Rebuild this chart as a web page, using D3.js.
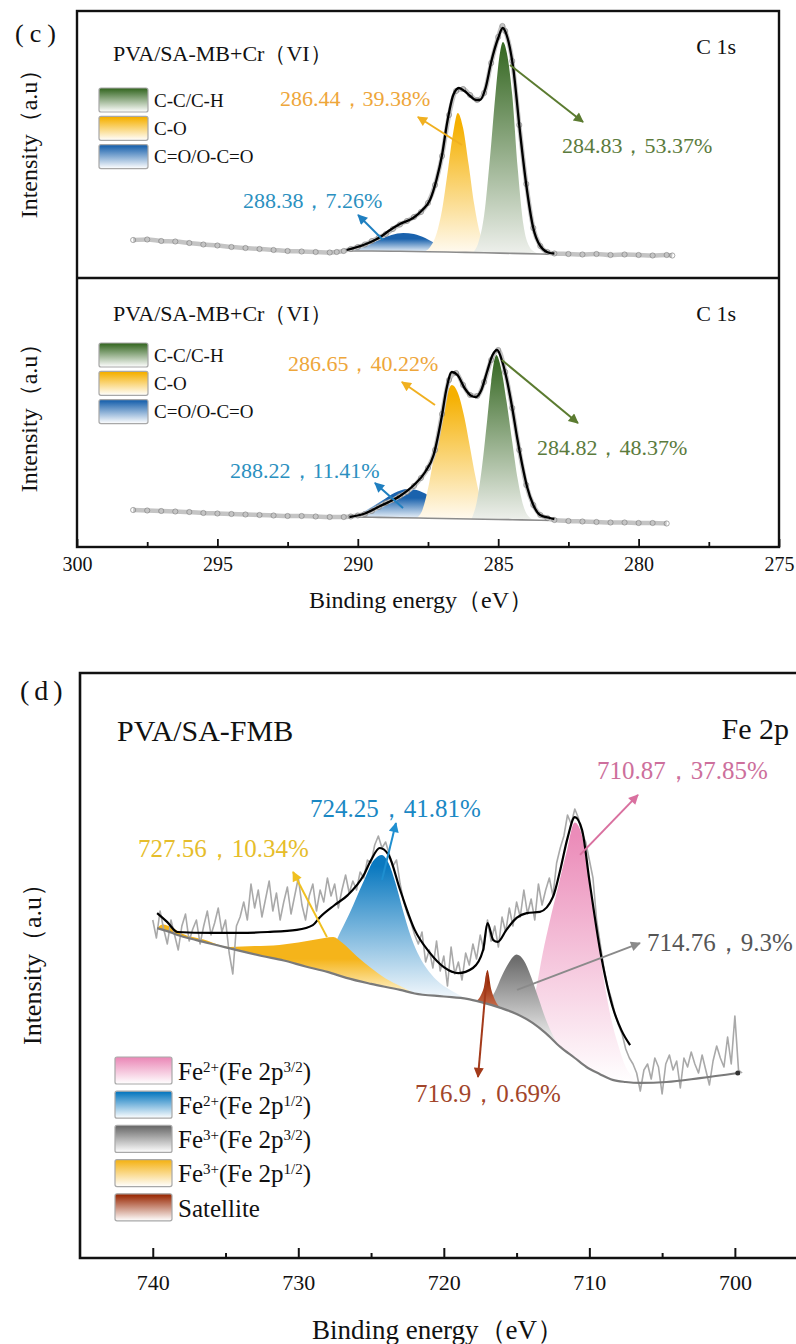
<!DOCTYPE html>
<html>
<head>
<meta charset="utf-8">
<script src="https://cdn.jsdelivr.net/npm/d3@7"></script>
<style>
body{margin:0;background:#fff;}
svg{display:block;}
text{font-family:"Liberation Serif","Times New Roman",serif;fill:#111;}
</style>
</head>
<body>
<svg id="chart" width="796" height="1344"></svg>
<script>
// ---------- data (energies in eV, intensities in a.u.) ----------
var cLegend = ["C-C/C-H", "C-O", "C=O/O-C=O"];
var c1sTopCenters = [284.83, 286.44, 288.38];
var c1sTopPct = [53.37, 39.38, 7.26];
var c1sLowCenters = [284.82, 286.65, 288.22];
var c1sLowPct = [48.37, 40.22, 11.41];
var cTicks = [300, 295, 290, 285, 280, 275];
var cMinor = [297.5, 292.5, 287.5, 282.5, 277.5];

var c1sTopRaw = [[298,20],[297.5,20.5],[297,19],[296.5,18.5],[296,17],[295.5,15.5],[295,14.5],[294.5,13],[294,12],[293.5,11],[293,10],[292.5,9],[292,8.5],[291.5,8],[291,7.5],[290.75,8],[290.5,9],[290.25,11],[290,13],[289.75,15.5],[289.5,19],[289.25,22.5],[289,26],[288.75,31],[288.5,35.5],[288.25,39],[288,43],[287.75,48],[287.5,57],[287.25,75],[287,104],[286.75,145],[286.5,169],[286.25,171],[286,165],[285.75,160],[285.5,167],[285.25,197],[285,223],[284.85,234],[284.75,229],[284.5,199],[284.25,135],[284,76],[283.75,32],[283.5,14],[283.25,8],[283,6.5],[282.5,6],[282,5.5],[281.5,6],[281,5],[280.5,5.5],[280,5],[279.5,4.5],[279,5],[278.8,4.5]];
var c1sTopFit = [[290.4,10],[289.8,15],[289.2,23],[288.85,30],[288.5,36],[288.03,42],[287.7,50],[287.43,60],[287.2,80],[287,105],[286.82,137],[286.6,165],[286.4,172],[286.2,169],[286,164],[285.8,160],[285.65,160],[285.45,172],[285.25,198],[285,222],[284.84,232],[284.7,225],[284.47,193],[284.22,127],[284,75],[283.76,33],[283.5,14],[283.16,7],[283,6.5]];
var c1sTopBg = [[290.5,9],[289.5,9],[288.5,8.7],[287.5,8.3],[286.5,7.8],[285.5,7.3],[284.5,6.6],[283.5,6],[283,5.6]];
var c1sTopCC = [[285.9,7.5],[285.7,18],[285.5,45],[285.3,100],[285.1,165],[284.95,205],[284.83,218],[284.7,208],[284.5,165],[284.3,90],[284.1,35],[283.9,14],[283.7,8],[283.5,6]];
var c1sTopCO = [[287.6,8.4],[287.4,14],[287.2,26],[287,50],[286.8,88],[286.6,128],[286.44,147],[286.25,132],[286.05,95],[285.85,55],[285.65,27],[285.45,14],[285.2,7.2]];
var c1sTopCOO = [[290.4,9],[290,12],[289.6,16],[289.2,20.5],[288.8,25],[288.38,27],[288,26],[287.6,22],[287.2,16],[286.8,11.5],[286.4,8.5],[286,7.5]];

var c1sLowRaw = [[298,20],[297.5,19.5],[297,19],[296.5,18.5],[296,18],[295.5,17],[295,16.5],[294.5,16],[294,15.5],[293.5,15],[293,14.5],[292.5,14],[292,14],[291.5,13.5],[291,13],[290.5,13],[290.25,13.5],[290,14.5],[289.75,16],[289.5,19],[289.25,23],[289,27],[288.75,30],[288.5,34],[288.25,38],[288,44],[287.75,52],[287.5,62],[287.25,80],[287,116],[286.75,150],[286.5,157],[286.25,145],[286,135],[285.75,134],[285.5,148],[285.25,170],[285,180],[284.75,158],[284.5,122],[284.25,80],[284,45],[283.75,25],[283.5,15],[283.25,12],[283,10],[282.5,9],[282,8.5],[281.5,8],[281,7.5],[280.5,7.5],[280,7],[279.5,7],[279,6.5]];
var c1sLowFit = [[290.3,13],[289.8,16],[289.2,24],[288.5,34],[288,45],[287.6,58],[287.3,75],[287,115],[286.85,140],[286.65,158],[286.45,155],[286.2,142],[285.95,134],[285.8,133],[285.6,140],[285.4,158],[285.2,175],[285.04,180],[284.85,168],[284.69,150],[284.5,122],[284.33,93],[284.15,66],[283.97,43],[283.75,25],[283.51,15],[283.16,12],[283,11]];
var c1sLowBg = [[290.3,13],[289.5,12.7],[288.5,12.3],[287.5,11.8],[286.5,11.3],[285.5,10.8],[284.5,10.3],[283.5,9.8],[283,9.5]];
var c1sLowCC = [[285.95,11],[285.75,30],[285.6,58],[285.4,108],[285.25,148],[285.07,175],[284.9,162],[284.7,128],[284.5,88],[284.3,50],[284.1,24],[283.9,13],[283.7,10]];
var c1sLowCO = [[287.9,12],[287.7,20],[287.45,48],[287.2,88],[287,117],[286.8,138],[286.65,145],[286.45,138],[286.2,112],[286,82],[285.8,52],[285.6,28],[285.4,15],[285.2,10.7]];
var c1sLowCOO = [[290.3,13],[289.9,17],[289.5,23],[289.1,30],[288.7,37],[288.22,41],[287.8,39],[287.4,33],[287,25],[286.6,17],[286.2,12],[285.8,10.9]];

var feLegend = ["Fe^{2+}(Fe 2p^{3/2})", "Fe^{2+}(Fe 2p^{1/2})", "Fe^{3+}(Fe 2p^{3/2})", "Fe^{3+}(Fe 2p^{1/2})", "Satellite"];
var feCenters = [710.87, 724.25, 714.76, 727.56, 716.9];
var fePct = [37.85, 41.81, 9.3, 10.34, 0.69];
var feTicks = [740, 730, 720, 710, 700];
var feMinor = [735, 725, 715, 705];

var feRaw = [[740,60],[739.75,54],[739.5,63],[739.25,57],[739,52],[738.75,60],[738.5,55],[738.25,50],[738,58],[737.75,62],[737.5,53],[737.25,57],[737,60],[736.75,52],[736.5,58],[736.25,63],[736,55],[735.75,59],[735.5,64],[735.25,56],[735,60],[734.75,49],[734.5,42],[734.25,58],[734,61],[733.75,66],[733.5,60],[733.25,72],[733,64],[732.75,70],[732.5,61],[732.25,67],[732,73],[731.75,63],[731.5,69],[731.25,60],[731,66],[730.75,71],[730.5,62],[730.25,68],[730,74],[729.75,65],[729.5,60],[729.25,68],[729,72],[728.75,63],[728.5,70],[728.25,66],[728,74],[727.75,68],[727.5,72],[727.25,64],[727,70],[726.75,75],[726.5,69],[726.25,73],[726,70],[725.75,76],[725.5,74],[725.25,80],[725,79],[724.75,85],[724.5,88],[724.25,84],[724,86],[723.75,82],[723.5,78],[723.25,80],[723,72],[722.75,66],[722.5,62],[722.25,59],[722,55],[721.75,52],[721.5,56],[721.25,46],[721,50],[720.75,44],[720.5,53],[720.25,43],[720,48],[719.75,38],[719.5,51],[719.25,42],[719,46],[718.75,40],[718.5,49],[718.25,45],[718,52],[717.75,47],[717.5,55],[717.25,50],[717,60],[716.75,53],[716.5,58],[716.25,51],[716,61],[715.75,56],[715.5,64],[715.25,58],[715,66],[714.75,61],[714.5,70],[714.25,62],[714,67],[713.75,60],[713.5,72],[713.25,65],[713,70],[712.75,74],[712.5,68],[712.25,79],[712,84],[711.75,88],[711.5,95],[711.25,92],[711,97],[710.75,94],[710.5,89],[710.25,86],[710,80],[709.75,74],[709.5,60],[709.25,52],[709,44],[708.75,38],[708.5,34],[708.25,29],[708,25],[707.75,22],[707.5,17],[707.25,14],[707,12],[706.75,9],[706.5,3],[706.25,10],[706,12],[705.75,7],[705.5,14],[705.25,11],[705,2],[704.75,12],[704.5,15],[704.25,10],[704,13],[703.75,4],[703.5,14],[703.25,11],[703,16],[702.75,12],[702.5,9],[702.25,15],[702,10],[701.75,5],[701.5,13],[701.25,18],[701,14],[700.75,11],[700.5,21],[700.25,12],[700,28],[699.75,10],[699.5,9]];
var feFit = [[739.7,62.3],[739,59.3],[738.3,56],[736,55.7],[734,55.7],[732.1,56],[730.1,56.7],[729,58.3],[728.5,61],[727.5,65],[726.6,68.3],[725.5,75],[725,80],[724.4,84],[723.8,81.7],[723,70],[722,56.7],[721,49.3],[720,44.3],[719,42.3],[718,44],[717.3,50],[717,59],[716.6,53.3],[716.3,52.7],[715.7,56.7],[715,60.7],[714.3,62.3],[713.4,62.7],[712.5,67.7],[712,76.7],[711.5,87.3],[711,94.3],[710.5,90],[710,73.3],[709.3,51],[708.4,31],[707.8,23.3],[707.2,18.3]];
var feBg = [[739.7,57.3],[739,56.3],[738.3,55],[737,53.3],[735.5,51.5],[734,49.7],[732.5,48],[731,46.5],[729.5,44.5],[728,42.7],[726.7,40.7],[725,38.7],[723,36.7],[722,35.5],[720,34.5],[718.4,33.7],[717.5,32.7],[716.1,30.7],[715,28.7],[713.9,25.7],[713,22.3],[712,17.7],[711,14],[710.2,11],[709.3,8.7],[708.4,6.7],[707.5,6],[706.5,5.7],[704.7,6],[702.4,7.3],[699.8,9]];
var fePink = [[714.2,27.2],[713.7,36],[713.2,49],[712.7,60],[712.2,70],[711.6,82],[711,92.5],[710.5,88],[710,73],[709.5,57],[709,40],[708.5,27],[708,18],[707.5,11],[707,7.5],[706.5,5.7]];
var feBlue = [[729,43.7],[728,46],[727.3,54],[726.5,62],[725.5,73],[724.8,80],[724.25,81.7],[723.8,79],[723.3,72],[722.8,63],[722.3,55],[721.8,49],[721.2,44],[720.5,40],[719.5,36.5],[718.4,33.7]];
var feGray = [[717,32.3],[716.5,36],[716,41.5],[715.5,46],[715,48.5],[714.5,46.5],[714,41],[713.5,34],[713,27],[712.5,21.5],[712,17.7]];
var feYellow = [[739.7,57.3],[739.3,58.5],[738.7,57.5],[738,55.5],[736.5,53.5],[734.7,51],[733,51.3],[731.3,51.7],[730,52.5],[729,53.3],[728.2,54],[727.6,54.3],[727,52.5],[726,48],[725,44],[724,40.5],[723,38],[722,35.5]];
var feBrown = [[717.8,33],[717.5,34.5],[717.25,37.5],[717,43.3],[716.75,37],[716.5,33.5],[716.1,30.7]];

// ---------- drawing ----------
var svg = d3.select("#chart");
var defs = svg.append("defs");

function grad(id, color, mid, end){
	var g = defs.append("linearGradient").attr("id", id)
		.attr("x1", 0).attr("y1", 0).attr("x2", 0).attr("y2", 1);
	g.append("stop").attr("offset", "0%").attr("stop-color", color);
	g.append("stop").attr("offset", (mid * 100) + "%").attr("stop-color", color);
	g.append("stop").attr("offset", "100%").attr("stop-color", end || "#ffffff");
}
function marker(id, color){
	defs.append("marker").attr("id", id)
		.attr("viewBox", "0 0 10 10").attr("refX", 9).attr("refY", 5)
		.attr("markerWidth", 13).attr("markerHeight", 10)
		.attr("markerUnits", "userSpaceOnUse").attr("orient", "auto")
		.append("path").attr("d", "M0,0L10,5L0,10z").attr("fill", color);
}

var cColors = ["#3a6b27", "#f5b000", "#1a62ad"];
var cEnds = ["#eef0ec", "#fffaf0", "#f4f8fc"];
var cMid = [0.04, 0.08, 0.3];
var cText = ["#5b7b3d", "#eea63a", "#2b90c0"];
var cArrow = ["#5b7b30", "#f0b020", "#1f7fc0"];
var feColors = ["#eb8cb9", "#0a79c0", "#6c6c6c", "#f5b41a", "#9a2a05"];
var feEnds = ["#ffffff", "#f3f8fc", "#f7f7f7", "#fff3cc", "#c87050"];
var feMid = [0.05, 0.08, 0.05, 0.5, 0.3];
var feText = ["#cd6f9c", "#1a88c4", "#555555", "#e6bd2a", "#a2452a"];
var feArrow = ["#d9709f", "#1f8fd0", "#8a8a8a", "#f0c020", "#a33a1a"];

cColors.forEach(function(c, i){
	grad("cg" + i, c, cMid[i], cEnds[i]);
	grad("cl" + i, c, 0.05, "#ffffff");
	marker("cm" + i, cArrow[i]);
});
feColors.forEach(function(c, i){
	grad("fg" + i, c, feMid[i], feEnds[i]);
	grad("fl" + i, c, 0.05, "#ffffff");
	marker("fm" + i, feArrow[i]);
});

var xC = d3.scaleLinear().domain([300, 275]).range([77, 779]);
var yTop = d3.scaleLinear().domain([0, 240]).range([260, 20]);
var yLow = d3.scaleLinear().domain([0, 240]).range([530, 290]);
var xFe = d3.scaleLinear().domain([745, 695.8]).range([80, 796]);
var yFe = d3.scaleLinear().domain([0, 100]).range([1100, 800]);

function drawPeak(g, pts, bg, x, y, fillId){
	var top = d3.line().x(function(d){ return x(d[0]); }).y(function(d){ return y(d[1]); })
		.curve(d3.curveMonotoneX)(pts);
	var hi = pts[0][0], lo = pts[pts.length - 1][0];
	var base = bg.filter(function(d){ return d[0] < hi && d[0] > lo; }).reverse();
	var p = top + base.map(function(d){ return "L" + x(d[0]) + "," + y(d[1]); }).join("") + "Z";
	g.append("path").attr("d", p).attr("fill", "url(#" + fillId + ")");
}
function drawLine(g, pts, x, y, color, w, curve){
	g.append("path")
		.attr("d", d3.line().x(function(d){ return x(d[0]); }).y(function(d){ return y(d[1]); }).curve(curve || d3.curveMonotoneX)(pts))
		.attr("fill", "none").attr("stroke", color).attr("stroke-width", w)
		.attr("stroke-linejoin", "round");
}
function drawRawC(g, pts, x, y){
	drawLine(g, pts, x, y, "#c4c4c4", 4.5, d3.curveMonotoneX);
	g.append("g").selectAll("circle").data(pts).enter().append("circle")
		.attr("cx", function(d){ return x(d[0]); })
		.attr("cy", function(d){ return y(d[1]); })
		.attr("r", 2.6).attr("fill", "none").attr("stroke", "#7a7a7a").attr("stroke-width", 0.9).attr("opacity", 0.7);
}
function arrow(g, from, to, x, y, color, mid){
	g.append("line")
		.attr("x1", x(from[0])).attr("y1", y(from[1]))
		.attr("x2", x(to[0])).attr("y2", y(to[1]))
		.attr("stroke", color).attr("stroke-width", 2)
		.attr("marker-end", "url(#" + mid + ")");
}
function label(g, txt, at, x, y, color, size){
	g.append("text").attr("x", x(at[0])).attr("y", y(at[1])).attr("dy", "0.35em")
		.attr("font-size", size).style("fill", color).text(txt);
}
function richText(t, s){
	s.split(/(\^\{[^}]*\})/).forEach(function(p){
		if(!p) return;
		if(p[0] == "^") t.append("tspan").attr("baseline-shift", "super").attr("font-size", "60%").text(p.slice(2, -1));
		else t.append("tspan").text(p);
	});
}

// ----- panel (c) -----
var gc = svg.append("g");

function c1sPanel(y, raw, fit, bg, cc, co, coo, centers, pct, layout, titleY, c1sY, legendY){
	var g = gc.append("g");
	drawPeak(g, coo, bg, xC, y, "cg2");
	drawPeak(g, co, bg, xC, y, "cg1");
	drawPeak(g, cc, bg, xC, y, "cg0");
	drawLine(g, bg, xC, y, "#8c8c8c", 1.6);
	drawRawC(g, raw, xC, y);
	drawLine(g, fit, xC, y, "#000", 2.3);

	[0, 1, 2].forEach(function(i){
		var L = layout[i];
		label(g, centers[i] + "，" + pct[i] + "%", L.at, xC, y, cText[i], 22);
		arrow(g, L.from, L.to, xC, y, cArrow[i], "cm" + i);
	});

	g.append("text").attr("x", 113).attr("y", titleY).attr("dy", "0.35em").attr("font-size", 22).text("PVA/SA-MB+Cr（VI）");
	g.append("text").attr("x", 736).attr("y", c1sY).attr("dy", "0.35em").attr("font-size", 22).attr("text-anchor", "end").text("C 1s");

	cLegend.forEach(function(name, i){
		var cy = legendY + i * 28.3;
		g.append("rect").attr("x", 99).attr("y", cy - 12).attr("width", 49).attr("height", 24)
			.attr("rx", 2).attr("fill", "url(#cl" + i + ")").attr("stroke", "#a8a8a8").attr("stroke-width", 1.2);
		g.append("text").attr("x", 154).attr("y", cy).attr("dy", "0.35em").attr("font-size", 19).text(name);
	});
}

c1sPanel(yTop, c1sTopRaw, c1sTopFit, c1sTopBg, c1sTopCC, c1sTopCO, c1sTopCOO, c1sTopCenters, c1sTopPct, [
	{at: [282.73, 115], from: [284.58, 195], to: [281.98, 138]},
	{at: [292.77, 162], from: [286.29, 115], to: [287.86, 143]},
	{at: [294.09, 60], from: [289.10, 20], to: [289.99, 45]}
], 53, 46, 100);

c1sPanel(yLow, c1sLowRaw, c1sLowFit, c1sLowBg, c1sLowCC, c1sLowCO, c1sLowCOO, c1sLowCenters, c1sLowPct, [
	{at: [283.62, 83], from: [284.87, 170], to: [282.16, 107]},
	{at: [292.49, 167], from: [287.25, 125], to: [288.43, 148]},
	{at: [294.55, 60], from: [288.39, 22], to: [289.39, 47]}
], 313, 313, 355);

// frame + axis
gc.append("rect").attr("x", 77).attr("y", 11).attr("width", 702).attr("height", 536)
	.attr("fill", "none").attr("stroke", "#111").attr("stroke-width", 2.4);
gc.append("line").attr("x1", 77).attr("x2", 779).attr("y1", 278).attr("y2", 278)
	.attr("stroke", "#111").attr("stroke-width", 2.4);

var axC = gc.append("g").attr("transform", "translate(0,547)")
	.call(d3.axisBottom(xC).tickValues(cTicks).tickSizeInner(-8).tickSizeOuter(0).tickPadding(10).tickFormat(d3.format("d")));
var axCm = gc.append("g").attr("transform", "translate(0,547)")
	.call(d3.axisBottom(xC).tickValues(cMinor).tickSizeInner(-5).tickSizeOuter(0).tickFormat(""));
[axC, axCm].forEach(function(a){
	a.attr("font-family", null);
	a.select(".domain").remove();
	a.selectAll("line").attr("stroke", "#111").attr("stroke-width", 1.8);
	a.selectAll("text").attr("font-size", 20).style("fill", "#111");
});

gc.append("text").attr("x", 421).attr("y", 600).attr("dy", "0.35em").attr("text-anchor", "middle")
	.attr("font-size", 24).text("Binding energy（eV）");
[138, 412].forEach(function(cy){
	gc.append("text").attr("transform", "translate(29," + cy + ") rotate(-90)").attr("dy", "0.35em")
		.attr("text-anchor", "middle").attr("font-size", 24).text("Intensity（a.u）");
});
gc.append("text").attr("x", 15).attr("y", 33).attr("dy", "0.35em").attr("font-size", 26)
	.attr("letter-spacing", 6).text("(c)");

// ----- panel (d) -----
var gf = svg.append("g");
drawPeak(gf, feBlue, feBg, xFe, yFe, "fg1");
drawPeak(gf, feYellow, feBg, xFe, yFe, "fg3");
drawPeak(gf, fePink, feBg, xFe, yFe, "fg0");
drawPeak(gf, feGray, feBg, xFe, yFe, "fg2");
drawPeak(gf, feBrown, feBg, xFe, yFe, "fg4");
drawLine(gf, feRaw, xFe, yFe, "#a9a9a9", 1.6, d3.curveLinear);
drawLine(gf, feBg, xFe, yFe, "#7a7a7a", 2.2);
gf.append("circle").attr("cx", xFe(feBg[feBg.length - 1][0])).attr("cy", yFe(feBg[feBg.length - 1][1]))
	.attr("r", 2.5).attr("fill", "#333");
drawLine(gf, feFit, xFe, yFe, "#000", 2.2);

var feLayout = [
	{at: [709.47, 110], from: [710.64, 81.7], to: [706.66, 101.7]},
	{at: [729.2, 97.3], from: [724.25, 73.3], to: [723.29, 92.3]},
	{at: [706.04, 52.7], from: [714.97, 36.7], to: [706.52, 52.3]},
	{at: [741.01, 84], from: [728.03, 54.3], to: [730.36, 76]},
	{at: [721.98, 2.3], from: [717.03, 42.3], to: [717.65, 7.7]}
];
feLayout.forEach(function(L, i){
	label(gf, feCenters[i] + "，" + fePct[i] + "%", L.at, xFe, yFe, feText[i], 25);
	arrow(gf, L.from, L.to, xFe, yFe, feArrow[i], "fm" + i);
});

feLegend.forEach(function(name, i){
	var cy = 1071 + i * 34.2;
	gf.append("rect").attr("x", 115).attr("y", cy - 14).attr("width", 57).attr("height", 27)
		.attr("rx", 2).attr("fill", "url(#fl" + i + ")").attr("stroke", "#a8a8a8").attr("stroke-width", 1.2);
	var t = gf.append("text").attr("x", 178).attr("y", cy).attr("dy", "0.35em").attr("font-size", 25);
	richText(t, name);
});

gf.append("text").attr("x", 117).attr("y", 730).attr("dy", "0.35em").attr("font-size", 30).text("PVA/SA-FMB");
gf.append("text").attr("x", 789).attr("y", 728).attr("dy", "0.35em").attr("font-size", 30).attr("text-anchor", "end").text("Fe 2p");

gf.append("path").attr("d", "M798,673H80V1258H798")
	.attr("fill", "none").attr("stroke", "#111").attr("stroke-width", 2.6);

var axF = gf.append("g").attr("transform", "translate(0,1258)")
	.call(d3.axisBottom(xFe).tickValues(feTicks).tickSizeInner(-10).tickSizeOuter(0).tickPadding(16).tickFormat(d3.format("d")));
var axFm = gf.append("g").attr("transform", "translate(0,1258)")
	.call(d3.axisBottom(xFe).tickValues(feMinor).tickSizeInner(-5).tickSizeOuter(0).tickFormat(""));
[axF, axFm].forEach(function(a){
	a.attr("font-family", null);
	a.select(".domain").remove();
	a.selectAll("line").attr("stroke", "#111").attr("stroke-width", 2);
	a.selectAll("text").attr("font-size", 22).style("fill", "#111");
});

gf.append("text").attr("x", 438).attr("y", 1330).attr("dy", "0.35em").attr("text-anchor", "middle")
	.attr("font-size", 27).text("Binding energy（eV）");
gf.append("text").attr("transform", "translate(32,958) rotate(-90)").attr("dy", "0.35em")
	.attr("text-anchor", "middle").attr("font-size", 26).text("Intensity（a.u）");
gf.append("text").attr("x", 20).attr("y", 690).attr("dy", "0.35em").attr("font-size", 28)
	.attr("letter-spacing", 5).text("(d)");
</script>
</body>
</html>
